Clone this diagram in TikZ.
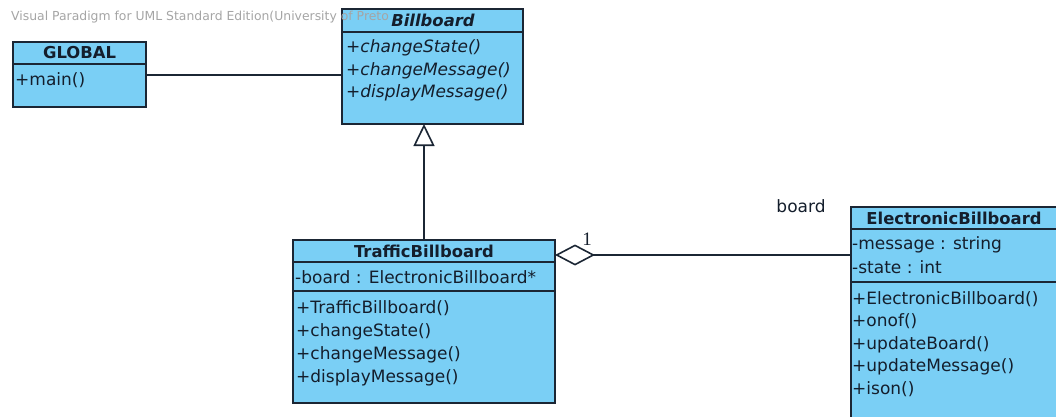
\documentclass[tikz,border=0pt]{standalone}
\usepackage{fontspec}
\setmainfont{DejaVu Sans}
\newfontfamily\serifone{Liberation Serif}
\usetikzlibrary{arrows.meta}
\definecolor{umlfill}{RGB}{122,207,245}
\definecolor{umlline}{RGB}{27,38,52}
\definecolor{umltext}{RGB}{20,30,44}
\definecolor{wmark}{RGB}{165,165,165}
\begin{document}
\begin{tikzpicture}[x=1pt,y=-1pt,
  box/.style={draw=umlline, fill=umlfill, line width=1.5pt, inner sep=0pt, outer sep=0pt, anchor=north west},
  hdr/.style={font=\fontsize{16.4}{19}\selectfont\bfseries, text=umltext, inner sep=0pt},
  ihdr/.style={font=\fontsize{16.4}{19}\selectfont\bfseries\itshape, text=umltext, inner sep=0pt},
  row/.style={font=\fontsize{17}{20}\selectfont, text=umltext, inner sep=0pt, anchor=base west},
  irow/.style={font=\fontsize{17}{20}\selectfont\itshape, text=umltext, inner sep=0pt, anchor=base west},
  conn/.style={draw=umlline, line width=1.6pt},
  lbl/.style={text=umltext, inner sep=0pt}]

\useasboundingbox (0,0) rectangle (1056,417);
\clip (0,0) rectangle (1056,417);

% GLOBAL
\node[box, minimum width=133pt, minimum height=22pt] (gH) at (13,42) {};
\node[box, minimum width=133pt, minimum height=43pt] (gB) at (13,64) {};
% Billboard
\node[box, minimum width=181pt, minimum height=23pt] (bH) at (342,9) {};
\node[box, minimum width=181pt, minimum height=92pt] (bB) at (342,32) {};
% TrafficBillboard
\node[box, minimum width=262pt, minimum height=22pt] (tH) at (293,240) {};
\node[box, minimum width=262pt, minimum height=29pt] (tA) at (293,262) {};
\node[box, minimum width=262pt, minimum height=112pt] (tM) at (293,291) {};
% ElectronicBillboard
\node[box, minimum width=230pt, minimum height=22pt] (eH) at (851,207) {};
\node[box, minimum width=230pt, minimum height=53pt] (eA) at (851,229) {};
\node[box, minimum width=230pt, minimum height=160pt] (eM) at (851,282) {};

% watermark
\node[anchor=base west, font=\fontsize{12.4}{14}\selectfont, text=wmark, inner sep=0pt] (wm) at (11,21) {Visual Paradigm for UML Standard Edition(University of Preto};

% texts
\node[hdr] (gT) at (gH.center) {GLOBAL};
\node[row] (g1) at (15,86) {+main()};

\node[ihdr] (bT) at (433,20.5) {Billboard};
\node[irow] (b1) at (346,53) {+changeState()};
\node[irow] (b2) at (346,75.5) {+changeMessage()};
\node[irow] (b3) at (346,98) {+displayMessage()};

\node[hdr] (tT) at (tH.center) {TrafficBillboard};
\node[row] (ta1) at (295,283) {-board : ElectronicBillboard*};
\node[row] (tm1) at (296,313) {+TrafficBillboard()};
\node[row] (tm2) at (296,336) {+changeState()};
\node[row] (tm3) at (296,359) {+changeMessage()};
\node[row] (tm4) at (296,382) {+displayMessage()};

\node[hdr] (eT) at (954,218) {ElectronicBillboard};
\node[row] (ea1) at (852,249) {-message : string};
\node[row] (ea2) at (852,273) {-state : int};
\node[row] (em1) at (852,304) {+ElectronicBillboard()};
\node[row] (em2) at (852,326.5) {+onof()};
\node[row] (em3) at (852,349) {+updateBoard()};
\node[row] (em4) at (852,371.5) {+updateMessage()};
\node[row] (em5) at (852,394) {+ison()};

% connectors
\draw[conn] (gB.east |- 0,75) -- (bB.west |- 0,75);
\draw[conn, -{Triangle[length=22pt, width=21pt, fill=white]}] (tH.north) -- (tH.north |- bB.south);
\draw[conn, {Diamond[length=40pt, width=21pt, fill=white]}-] (tH.east |- 0,255) -- (eA.west |- 0,255);

\node[lbl, font=\fontsize{19}{22}\selectfont\serifone] (m1) at (587,239) {1};
\node[lbl, font=\fontsize{17}{20}\selectfont] (rb) at (801,206) {board};
\end{tikzpicture}
\end{document}
